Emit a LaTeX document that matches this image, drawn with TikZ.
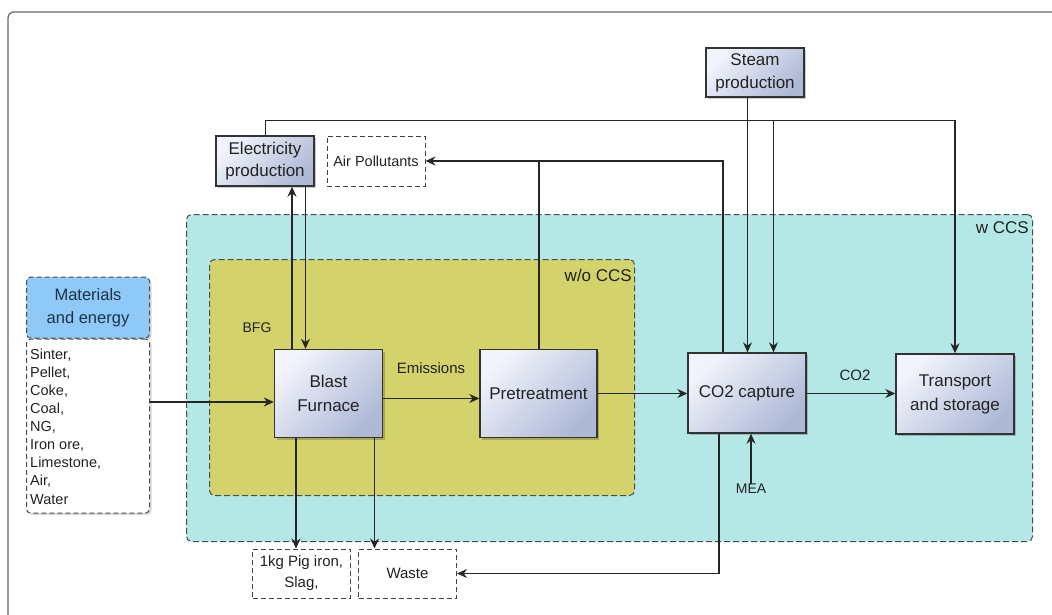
\documentclass[tikz,border=0pt]{standalone}
\usepackage{fontspec}
\setmainfont{Liberation Sans}
\usetikzlibrary{arrows.meta,shadows,calc}
\definecolor{cyanbg}{HTML}{B3E8E6}
\definecolor{olivebg}{HTML}{D3D26B}
\definecolor{hdrblue}{HTML}{8FC9F7}
\definecolor{boxlight}{HTML}{F2F4FC}
\definecolor{boxdark}{HTML}{AEB9D6}
\definecolor{txt}{HTML}{222222}
\definecolor{hdrtxt}{HTML}{1E3248}
\tikzset{
  procbox/.style={draw=black!80, line width=1.4pt, top color=boxlight, bottom color=boxdark, shading angle=45,
    drop shadow={shadow xshift=2pt, shadow yshift=-2pt, opacity=0.2, fill=black},
    align=center, text=txt, font=\fontsize{17}{24}\selectfont, inner sep=0pt},
  outbox/.style={draw=black!75, line width=1pt, dash pattern=on 5pt off 3pt, fill=white,
    align=center, text=txt, font=\fontsize{15}{20}\selectfont, inner sep=0pt},
  region/.style={draw=black!70, line width=1pt, dash pattern=on 6pt off 3pt, rounded corners=5pt, anchor=north west, inner sep=0pt},
  matbox/.style={draw=black!70, line width=1pt, dash pattern=on 5pt off 3pt, rounded corners=4pt, inner sep=0pt,
    drop shadow={shadow xshift=2pt, shadow yshift=-2pt, opacity=0.15, fill=black}},
  lab/.style={text=txt, font=\fontsize{15}{18}\selectfont, inner sep=0pt},
  biglab/.style={text=txt, font=\fontsize{17}{20}\selectfont, inner sep=0pt},
  conn/.style={draw=black!85, line width=1.25pt},
  arr/.style={conn, -{Stealth[length=10pt,width=9pt]}},
}
\begin{document}
\begin{tikzpicture}[x=1pt,y=-1pt]
\useasboundingbox (0,0) rectangle (1052,614);
\fill[white] (0,0) rectangle (1052,614);
% outer frame
\draw[draw=black!60, line width=1.2pt, rounded corners=6pt] (8,12) rectangle (1075,640);

% regions
\node[region, fill=cyanbg, minimum width=846, minimum height=327] (wCCS) at (186,214) {};
\node[region, fill=olivebg, minimum width=425, minimum height=236] (woCCS) at (209,259) {};
\node[biglab, anchor=east] (wlab) at (1029,228) {w CCS};
\node[biglab, anchor=east] (wolab) at (632,275) {w/o CCS};

% materials
\node[matbox, fill=hdrblue, minimum width=123, minimum height=61, align=center, text=hdrtxt,
  font=\fontsize{16.5}{23.5}\selectfont] (MatHead) at (88,307.5) {Materials\\and energy};
\node[matbox, fill=white, minimum width=123, minimum height=174, anchor=north] (MatList) at (MatHead.south) {};
\node[text=txt, font=\fontsize{14.5}{18.1}\selectfont, align=left, anchor=north west, inner sep=0pt] (MatItems)
  at (30,348.5) {Sinter,\\Pellet,\\Coke,\\Coal,\\NG,\\Iron ore,\\Limestone,\\Air,\\Water};

% process boxes
\node[procbox, minimum width=108, minimum height=88] (BF) at (328.5,393.5) {Blast\\Furnace};
\node[procbox, minimum width=117, minimum height=88] (Pre) at (538.5,393.5) {Pretreatment};
\node[procbox, minimum width=118, minimum height=80] (CO2) at (747,393) {CO2 capture};
\node[procbox, minimum width=118, minimum height=80] (TS) at (955,394) {Transport\\and storage};
\node[procbox, minimum width=98, minimum height=50, font=\fontsize{17}{22.5}\selectfont] (Elec) at (265,161) {Electricity\\production};
\node[procbox, minimum width=98, minimum height=49, font=\fontsize{17}{23}\selectfont] (Steam) at (755,72.5) {Steam\\production};

% output boxes
\node[outbox, minimum width=98, minimum height=50, font=\fontsize{14.5}{20}\selectfont] (Air) at (376,161) {Air Pollutants};
\node[outbox, minimum width=98, minimum height=49, font=\fontsize{15}{21}\selectfont] (Pig) at (301.5,573.5) {1kg Pig iron,\\Slag,};
\node[outbox, minimum width=98, minimum height=49] (Waste) at (407.5,573.5) {Waste};

% labels
\node[lab, font=\fontsize{14}{16}\selectfont] (BFG) at (257,328) {BFG};
\node[lab] (Em) at (431,368) {Emissions};
\node[lab] (CO2lab) at (855,375) {CO2};
\node[lab, font=\fontsize{14}{16}\selectfont] (MEA) at (751,489) {MEA};

% helper coordinates
\coordinate (yIn) at (0,402);
\coordinate (yEm) at (0,398.5);
\coordinate (yPC) at (0,393.5);
\coordinate (yTop) at (0,120.5);
\coordinate (xUp) at (292,0);
\coordinate (xDn) at (305.5,0);
\coordinate (xEl) at (265.5,0);
\coordinate (xTS) at (955,0);
\coordinate (xBr) at (773.5,0);
\coordinate (xSt) at (747.5,0);
\coordinate (xAirL) at (723,0);
\coordinate (xPre) at (539,0);
\coordinate (xWst) at (719,0);
\coordinate (xPig) at (296,0);
\coordinate (xW2) at (374.5,0);
\coordinate (jBr) at (773.5,120.5);

% main flow
\draw[arr] (MatList.east |- yIn) -- (BF.west |- yIn);
\draw[arr] (BF.east |- yEm) -- (Pre.west |- yEm);
\draw[arr] (Pre.east |- yPC) -- (CO2.west |- yPC);
\draw[arr] (CO2.east |- yPC) -- (TS.west |- yPC);

% electricity
\draw[arr] (BF.north -| xUp) -- (Elec.south -| xUp);
\draw[arr] (Elec.south -| xDn) -- (BF.north -| xDn);
\draw[arr] (Elec.north -| xEl) |- (yTop -| xTS) -- (TS.north -| xTS);
\draw[arr] (jBr) -- (CO2.north -| xBr);

% steam
\draw[arr] (Steam.south -| xSt) -- (CO2.north -| xSt);

% air pollutants
\draw[arr] (CO2.north -| xAirL) |- (Air.east);
\draw[conn] (Pre.north -| xPre) -- (xPre |- Air.east);

% MEA
\draw[arr] (MEA.north) -- (MEA.north |- CO2.south);

% waste
\draw[arr] (CO2.south -| xWst) |- (Waste.east);
\draw[arr] (BF.south -| xPig) -- (Pig.north -| xPig);
\draw[arr] (BF.south -| xW2) -- (Waste.north -| xW2);
\end{tikzpicture}
\end{document}
